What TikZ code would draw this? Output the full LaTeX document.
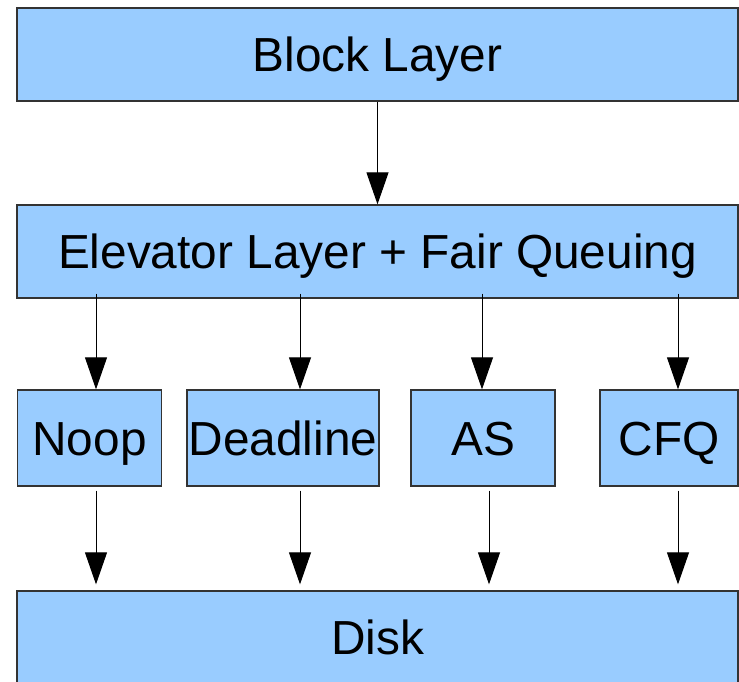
\documentclass[tikz,border=0pt]{standalone}
\usepackage{fontspec}
\setmainfont{Liberation Sans}
\usetikzlibrary{arrows.meta}
\definecolor{boxfill}{HTML}{99CCFF}
\definecolor{boxline}{HTML}{333333}
\tikzset{
  layerbox/.style={draw=boxline, line width=1.3pt, fill=boxfill, inner sep=0pt,
    font=\fontsize{47.8}{57}\selectfont, text height=34pt, text depth=0pt},
  flow/.style={draw=black, line width=1pt,
    -{Triangle[length=32pt,width=22pt]}}
}
\begin{document}
\begin{tikzpicture}[x=1pt,y=-1pt]
\useasboundingbox (0,0) rectangle (739,681);
\clip (0,0) rectangle (739,681);
% layers
\node[layerbox, minimum width=721pt, minimum height=93pt] (block) at (377.5,54.5) {Block Layer};
\node[layerbox, minimum width=721pt, minimum height=93pt] (elev) at (377.5,251.5) {Elevator Layer + Fair Queuing};
\node[layerbox, minimum width=144pt, minimum height=96pt] (noop) at (89.5,438) {Noop};
\node[layerbox, minimum width=192pt, minimum height=96pt] (dead) at (283,438) {Deadline};
\node[layerbox, minimum width=144pt, minimum height=96pt] (as) at (483,438) {AS};
\node[layerbox, minimum width=138pt, minimum height=96pt] (cfq) at (669,438) {CFQ};
\node[layerbox, minimum width=721pt, minimum height=93pt] (disk) at (377.5,637.5) {Disk};
% arrow columns
\coordinate (xa) at (96,0);
\coordinate (xb) at (300,0);
\coordinate (xc) at (482,0);
\coordinate (xc2) at (489,0);
\coordinate (xd) at (678,0);
% connectors
\draw[flow] (block) -- (elev);
\draw[flow, shorten <=-5pt] (xa |- elev.south) -- (xa |- noop.north);
\draw[flow, shorten <=-5pt] (xb |- elev.south) -- (xb |- dead.north);
\draw[flow, shorten <=-5pt] (xc |- elev.south) -- (xc |- as.north);
\draw[flow, shorten <=-5pt] (xd |- elev.south) -- (xd |- cfq.north);
\draw[flow, shorten <=4pt, shorten >=6pt] (xa |- noop.south) -- (xa |- disk.north);
\draw[flow, shorten <=4pt, shorten >=6pt] (xb |- dead.south) -- (xb |- disk.north);
\draw[flow, shorten <=4pt, shorten >=6pt] (xc2 |- as.south) -- (xc2 |- disk.north);
\draw[flow, shorten <=4pt, shorten >=6pt] (xd |- cfq.south) -- (xd |- disk.north);
\end{tikzpicture}
\end{document}
